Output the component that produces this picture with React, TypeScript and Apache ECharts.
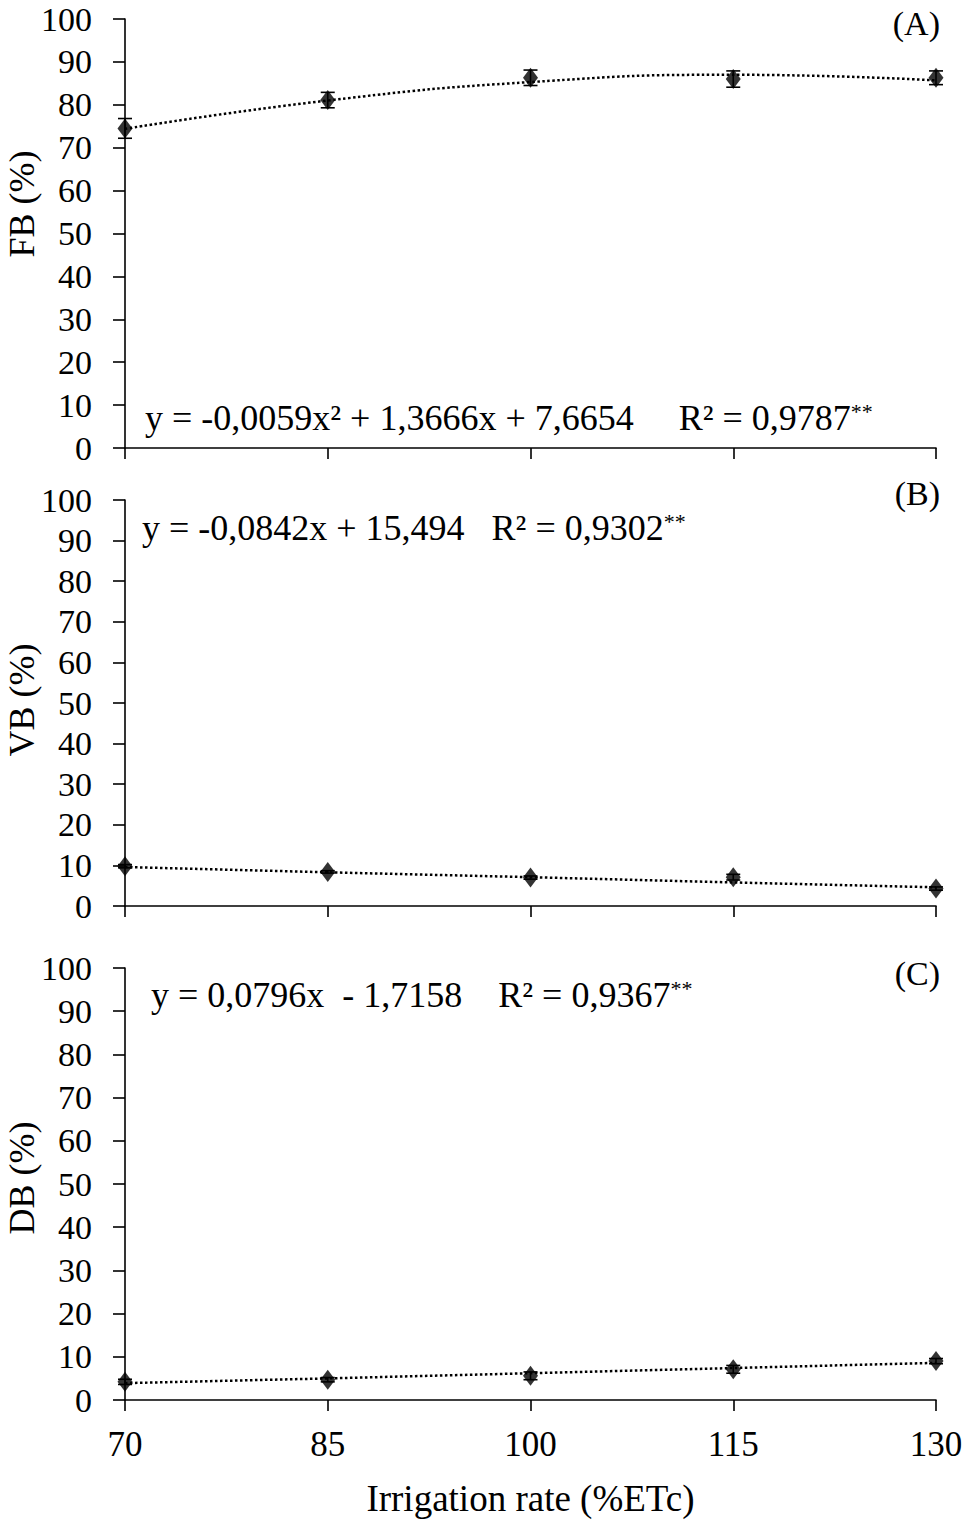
import React, { useEffect, useRef } from "react";
import * as echarts from "echarts";

const xCats = ["70", "85", "100", "115", "130"];
const yTicks = [0, 100, 10];

const fbMean = [74.5, 81.1, 86.3, 86.0, 86.3];
const fbErr = [2.3, 1.8, 1.8, 1.9, 1.6];
const fbTrend = [74.4, 81.0, 85.3, 87.0, 85.7];

const vbMean = [9.8, 8.4, 7.0, 7.1, 4.3];
const vbErr = [0.4, 0.3, 0.4, 0.7, 0.4];
const vbTrend = [9.6, 8.3, 7.1, 5.8, 4.6];

const dbMean = [4.2, 4.7, 5.6, 7.1, 9.0];
const dbErr = [0.6, 0.5, 0.9, 0.9, 0.6];
const dbTrend = [3.9, 5.0, 6.2, 7.4, 8.6];

const yTitles = ["FB (%)", "VB (%)", "DB (%)"];
const panelTags = ["(A)", "(B)", "(C)"];
const equations = [
  "y = -0,0059x² + 1,3666x + 7,6654     R² = 0,9787",
  "y = -0,0842x + 15,494   R² = 0,9302",
  "y = 0,0796x  - 1,7158    R² = 0,9367",
];
const xTitle = "Irrigation rate (%ETc)";

const FONT = "'Liberation Serif', 'Times New Roman', serif";

export default function App() {
  const ref = useRef<HTMLDivElement>(null);
  useEffect(() => {
    if (!ref.current) return;
    const chart = echarts.init(ref.current, null, { renderer: "svg" });
    const grids = [
      { left: 125, right: 32, top: 19, height: 429, outerBoundsMode: "none", containLabel: false },
      { left: 125, right: 32, top: 500, height: 406, outerBoundsMode: "none", containLabel: false },
      { left: 125, right: 32, top: 968, height: 432, outerBoundsMode: "none", containLabel: false },
    ];
    const means = [fbMean, vbMean, dbMean];
    const errs = [fbErr, vbErr, dbErr];
    const trends = [fbTrend, vbTrend, dbTrend];

    const xAxis = grids.map((_, i) => ({
      type: "category",
      gridIndex: i,
      data: xCats,
      boundaryGap: false,
      axisLine: { show: true, lineStyle: { color: "#000", width: 1.6 } },
      axisTick: { show: true, length: 11, alignWithLabel: true, lineStyle: { color: "#000", width: 1.6 } },
      axisLabel: {
        show: i === 2,
        color: "#000",
        fontSize: 35,
        fontFamily: FONT,
        margin: 27,
      },
      splitLine: { show: false },
      name: i === 2 ? xTitle : "",
      nameLocation: "middle",
      nameGap: 80,
      nameTextStyle: { color: "#000", fontSize: 37, fontFamily: FONT },
    }));

    const yAxis = grids.map((_, i) => ({
      type: "value",
      gridIndex: i,
      min: yTicks[0],
      max: yTicks[1],
      interval: yTicks[2],
      axisLine: { show: true, lineStyle: { color: "#000", width: 1.6 } },
      axisTick: { show: true, length: 12, lineStyle: { color: "#000", width: 1.6 } },
      axisLabel: { color: "#000", fontSize: 34, lineHeight: 30, fontFamily: FONT, margin: 33 },
      splitLine: { show: false },
    }));

    const series: any[] = [];
    grids.forEach((_, i) => {
      series.push({
        type: "line",
        xAxisIndex: i,
        yAxisIndex: i,
        data: trends[i],
        smooth: i === 0,
        symbol: "none",
        lineStyle: { color: "#000", width: 2.5, type: "dotted" },
        z: 2,
      });
      series.push({
        type: "custom",
        xAxisIndex: i,
        yAxisIndex: i,
        data: means[i].map((m, k) => [k, m - errs[i][k], m + errs[i][k]]),
        encode: { x: 0, y: [1, 2] },
        renderItem: (params: any, api: any) => {
          const x = api.value(0);
          const lo = api.coord([x, api.value(1)]);
          const hi = api.coord([x, api.value(2)]);
          const w = 7;
          const st = { stroke: "#000", lineWidth: 1.6 };
          return {
            type: "group",
            children: [
              { type: "line", shape: { x1: lo[0], y1: lo[1], x2: hi[0], y2: hi[1] }, style: st },
              { type: "line", shape: { x1: lo[0] - w, y1: lo[1], x2: lo[0] + w, y2: lo[1] }, style: st },
              { type: "line", shape: { x1: hi[0] - w, y1: hi[1], x2: hi[0] + w, y2: hi[1] }, style: st },
            ],
          };
        },
        z: 3,
      });
      series.push({
        type: "scatter",
        xAxisIndex: i,
        yAxisIndex: i,
        data: means[i],
        symbol: "diamond",
        symbolSize: [15, 20],
        itemStyle: { color: "#000" },
        z: 4,
      });
    });

    const eqPos = [
      { x: 145, y: 418 },
      { x: 142, y: 528 },
      { x: 151, y: 995 },
    ];
    const tagPos = [23, 493, 973];
    const titleY = [204, 700, 1178];
    const graphic: any[] = [];
    equations.forEach((eq, i) => {
      graphic.push({
        type: "text",
        x: eqPos[i].x,
        y: eqPos[i].y,
        style: {
          text: `{a|${eq}}{s|**}`,
          verticalAlign: "middle",
          rich: {
            a: { fontSize: 36, fontFamily: FONT, fill: "#000" },
            s: { fontSize: 22, fontFamily: FONT, fill: "#000", verticalAlign: "top" },
          },
        },
      });
      graphic.push({
        type: "text",
        x: 940,
        y: tagPos[i],
        style: {
          text: panelTags[i],
          fontSize: 34,
          fontFamily: FONT,
          fill: "#000",
          align: "right",
          verticalAlign: "middle",
        },
      });
      graphic.push({
        type: "text",
        x: 22,
        y: titleY[i],
        rotation: Math.PI / 2,
        style: {
          text: yTitles[i],
          fontSize: 36,
          fontFamily: FONT,
          fill: "#000",
          align: "center",
          verticalAlign: "middle",
        },
      });
    });

    chart.setOption({
      animation: false,
      backgroundColor: "#fff",
      grid: grids,
      xAxis,
      yAxis,
      series,
      graphic,
    });
    return () => chart.dispose();
  }, []);
  return (
    <div
      ref={ref}
      style={{ position: "absolute", left: 0, top: 0, width: 968, height: 1520 }}
    />
  );
}
